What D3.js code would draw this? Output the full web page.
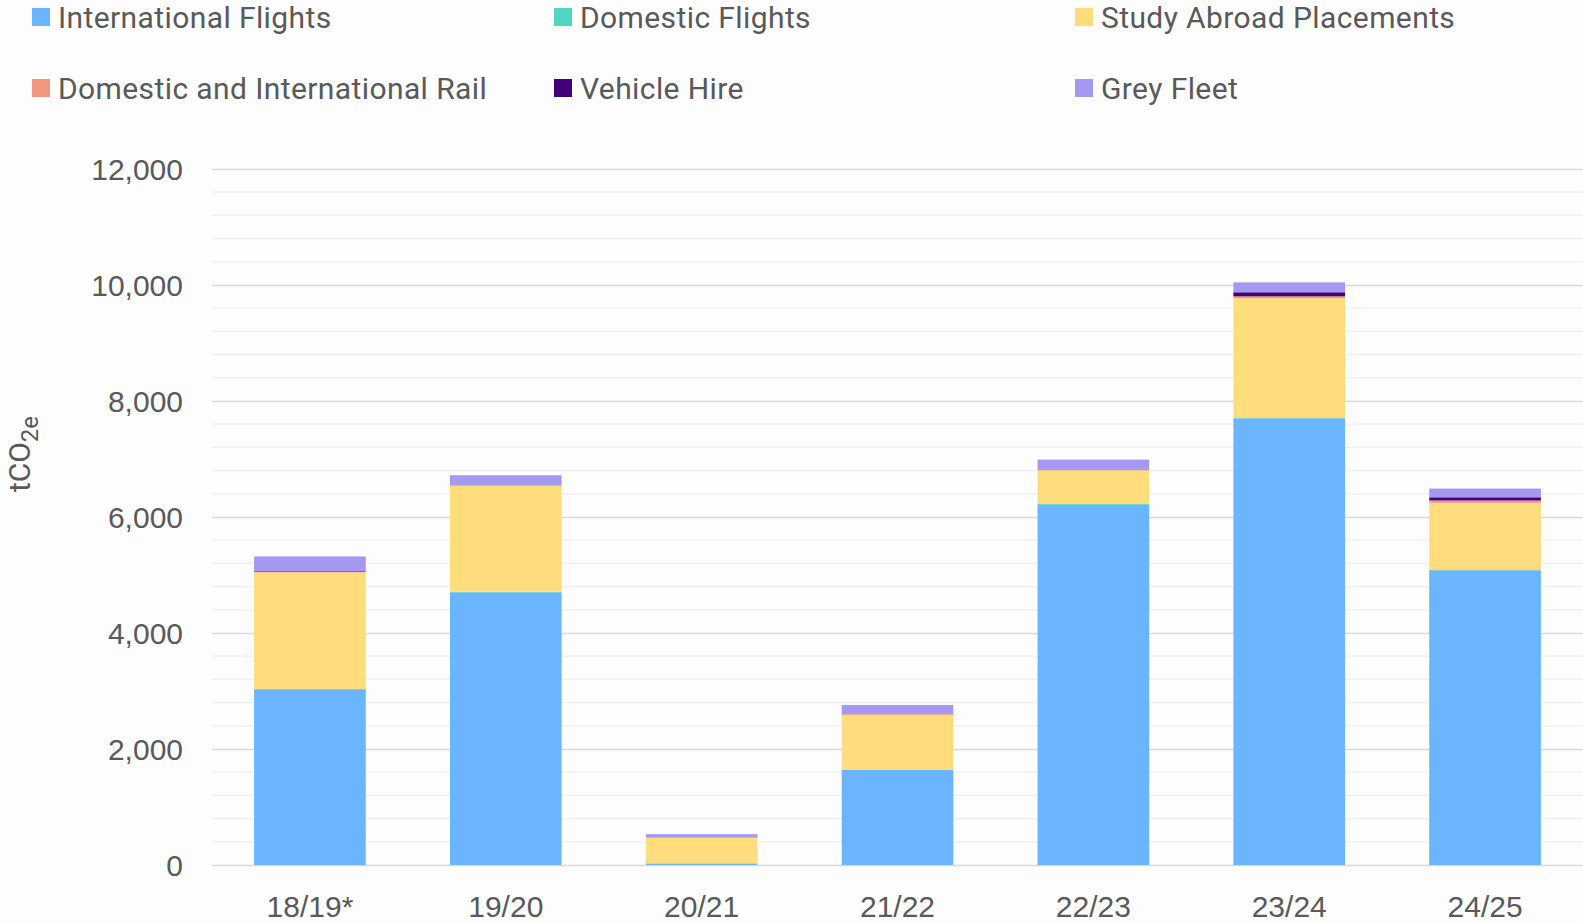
<!DOCTYPE html>
<html><head><meta charset="utf-8">
<script src="https://cdn.jsdelivr.net/npm/d3@7"></script>
<style>
html,body{margin:0;padding:0;background:#fdfdfd;}
svg{display:block;}
</style></head>
<body>
<svg id="chart" width="1583" height="923"></svg>
<script>
const categories = ["18/19*","19/20","20/21","21/22","22/23","23/24","24/25"];
const seriesNames = ["International Flights","Domestic Flights","Study Abroad Placements","Domestic and International Rail","Vehicle Hire","Grey Fleet"];
const internationalFlights = [3030, 4700, 25, 1640, 6210, 7700, 5080];
const domesticFlights      = [5, 10, 5, 5, 15, 15, 15];
const studyAbroad          = [2010, 1830, 440, 945, 580, 2060, 1150];
const rail                 = [15, 10, 5, 20, 20, 30, 40];
const vehicleHire          = [10, 5, 2, 5, 5, 70, 55];
const greyFleet            = [250, 165, 55, 145, 160, 170, 150];
const yTicks = [0, 2000, 4000, 6000, 8000, 10000, 12000];
const colors = ["#6bb5ff","#4fd6c0","#ffdd7c","#f29680","#440077","#a499f1"];

const seriesData = [internationalFlights, domesticFlights, studyAbroad, rail, vehicleHire, greyFleet];
const rows = categories.map((c,i)=>{
  const o={cat:c};
  seriesNames.forEach((s,j)=>o[s]=seriesData[j][i]);
  return o;
});

const svg = d3.select("#chart");
const M = {left:212, right:1583, top:169, bottom:865};
const x = d3.scaleBand().domain(categories).range([M.left, M.right]).paddingInner(0.43).paddingOuter(0.215);
const y = d3.scaleLinear().domain([0,12000]).range([M.bottom, M.top]);

// minor grid
const minor = d3.range(0, 12001, 400).filter(v=>v%2000!==0);
svg.append("g").selectAll("line").data(minor).join("line")
  .attr("x1",M.left).attr("x2",M.right)
  .attr("y1",d=>y(d)).attr("y2",d=>y(d))
  .attr("stroke","#efefef").attr("stroke-width",1.3);

// major grid via axis
const yAxis = d3.axisLeft(y).tickValues(yTicks).tickSize(-(M.right-M.left)).tickFormat(d3.format(","));
const gy = svg.append("g").attr("transform",`translate(${M.left},0)`).call(yAxis);
gy.select(".domain").remove();
gy.selectAll(".tick line").attr("stroke","#d9d9d9").attr("stroke-width",1.6);
gy.selectAll(".tick text").attr("x",-29).attr("dy","0.36em")
  .attr("fill","#595959").style("font-family","'Liberation Sans',Arial,sans-serif").style("font-size","30px");

// bars
const stack = d3.stack().keys(seriesNames)(rows);
svg.append("g").selectAll("g").data(stack).join("g")
  .attr("fill",(d,i)=>colors[i])
  .selectAll("rect").data(d=>d).join("rect")
  .attr("x",d=>x(d.data.cat)).attr("width",x.bandwidth())
  .attr("y",d=>y(d[1])).attr("height",d=>Math.max(0,y(d[0])-y(d[1])));

// x axis labels
const xAxis = d3.axisBottom(x).tickSize(0);
const gx = svg.append("g").attr("transform",`translate(0,${M.bottom})`).call(xAxis);
gx.select(".domain").remove();
gx.selectAll(".tick text").attr("y",52).attr("dy","0")
  .attr("fill","#595959").style("font-family","'Liberation Sans',Arial,sans-serif").style("font-size","30px");

// y title
const yt = svg.append("text").attr("transform",`translate(30,${454}) rotate(-90)`)
  .attr("text-anchor","middle").attr("fill","#595959")
  .style("font-family","'Roboto',sans-serif").style("font-size","30px");
yt.append("tspan").text("tCO");
yt.append("tspan").text("2e").attr("dy",8).style("font-size","24px");

// legend
const legPos = [[32,17],[554,17],[1075,17],[32,88],[554,88],[1075,88]];
const lg = svg.append("g").selectAll("g").data(seriesNames).join("g")
  .attr("transform",(d,i)=>`translate(${legPos[i][0]},${legPos[i][1]})`);
lg.append("rect").attr("x",0).attr("y",-9).attr("width",18).attr("height",18).attr("fill",(d,i)=>colors[i]);
lg.append("text").attr("x",26).attr("y",0).attr("dy","0.35em").text(d=>d)
  .attr("fill","#595959").style("font-family","'Roboto',sans-serif").style("font-size","30px").style("letter-spacing","0.4px");
</script>
</body></html>
